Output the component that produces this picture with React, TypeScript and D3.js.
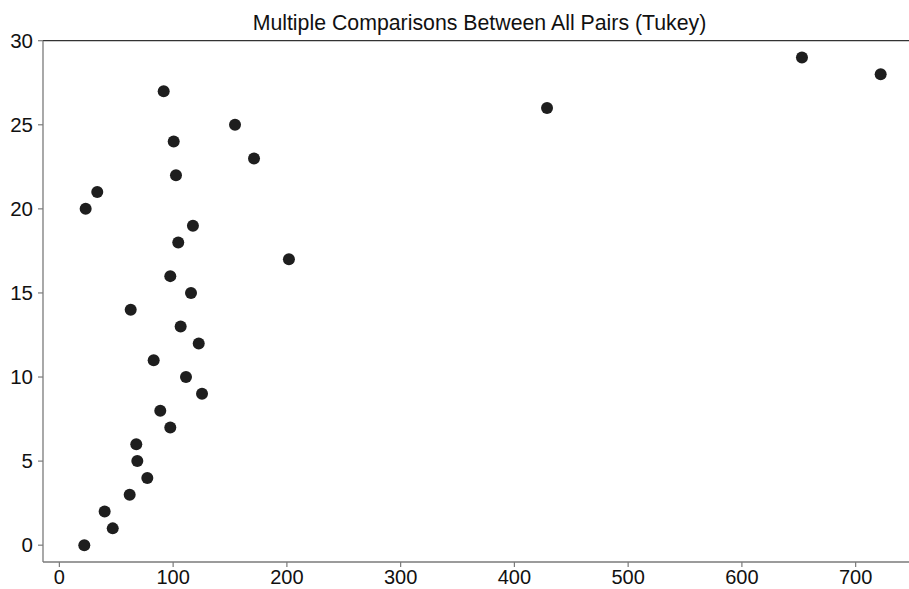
import React, { useRef, useEffect } from 'react';
import * as d3 from 'd3';

// x value read for each rank 0..29
const xValues = [
  21.9, 46.9, 39.8, 61.8, 77.3, 68.5, 67.6, 97.5, 88.7, 125.4,
  111.3, 82.9, 122.5, 106.6, 62.7, 115.7, 97.5, 201.8, 104.5, 117.4,
  23.1, 33.3, 102.5, 171.1, 100.5, 154.4, 428.7, 91.7, 722, 652.8,
];
const yValues = d3.range(0, 30);
const xTicks = [0, 100, 200, 300, 400, 500, 600, 700];
const yTicks = [0, 5, 10, 15, 20, 25, 30];
const title = 'Multiple Comparisons Between All Pairs (Tukey)';

const W = 909;
const H = 589;

export default function App() {
  const svgRef = useRef<SVGSVGElement>(null);

  useEffect(() => {
    if (!svgRef.current) return;
    const svg = d3.select(svgRef.current);
    svg.selectAll('*').remove();

    const left = 43, right = 909, top = 40.7, bottom = 562;
    const font = '"Liberation Sans", Arial, Helvetica, sans-serif';

    const x = d3.scaleLinear().domain([-14.4, 746.9]).range([left, right]);
    const y = d3.scaleLinear().domain([-1, 30]).range([bottom, top]);

    // spines
    svg.append('line')
      .attr('x1', left).attr('x2', right).attr('y1', top).attr('y2', top)
      .attr('stroke', '#333').attr('stroke-width', 1.3);
    svg.append('line')
      .attr('x1', left).attr('x2', left).attr('y1', top).attr('y2', bottom)
      .attr('stroke', '#7a7a7a').attr('stroke-width', 1.3);
    svg.append('line')
      .attr('x1', left).attr('x2', right).attr('y1', bottom).attr('y2', bottom)
      .attr('stroke', '#7a7a7a').attr('stroke-width', 1.3);

    // y ticks
    const yg = svg.append('g');
    yTicks.forEach(t => {
      yg.append('line')
        .attr('x1', left - 5).attr('x2', left)
        .attr('y1', y(t)).attr('y2', y(t))
        .attr('stroke', '#7a7a7a').attr('stroke-width', 1.2);
      yg.append('text')
        .attr('x', left - 10).attr('y', y(t))
        .attr('dy', '0.35em')
        .attr('text-anchor', 'end')
        .style('font-family', font)
        .style('font-size', '20.5px')
        .attr('fill', '#111')
        .text(t);
    });

    // x ticks
    const xg = svg.append('g');
    xTicks.forEach(t => {
      xg.append('line')
        .attr('x1', x(t)).attr('x2', x(t))
        .attr('y1', bottom).attr('y2', bottom + 5)
        .attr('stroke', '#7a7a7a').attr('stroke-width', 1.2);
      xg.append('text')
        .attr('x', x(t)).attr('y', 584)
        .attr('text-anchor', 'middle')
        .style('font-family', font)
        .style('font-size', '20px')
        .attr('fill', '#111')
        .text(t);
    });

    // title
    svg.append('text')
      .attr('x', 479.5).attr('y', 30)
      .attr('text-anchor', 'middle')
      .style('font-family', font)
      .style('font-size', '21.3px')
      .attr('fill', '#111')
      .text(title);

    // points
    svg.append('g')
      .selectAll('circle')
      .data(yValues)
      .join('circle')
      .attr('cx', (d, i) => x(xValues[i]))
      .attr('cy', d => y(d))
      .attr('r', 6)
      .attr('fill', '#1e1e1e');
  }, []);

  return (
    <svg
      ref={svgRef}
      width={W}
      height={H}
      style={{ position: 'absolute', left: 0, top: 0, background: '#fff' }}
    />
  );
}
